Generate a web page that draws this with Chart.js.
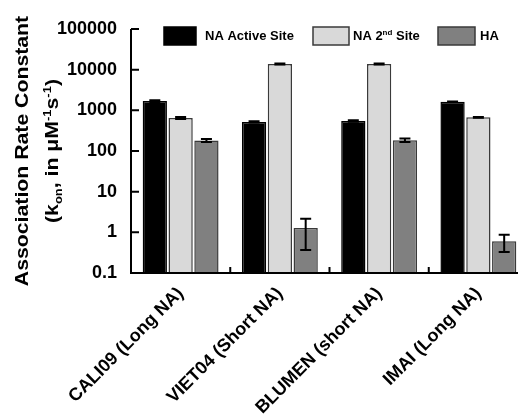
<!DOCTYPE html>
<html>
<head>
<meta charset="utf-8">
<script src="https://cdn.jsdelivr.net/npm/chart.js@4"></script>
<style>
html,body{margin:0;padding:0;background:#fff;overflow:hidden;width:518px;height:414px;}
#wrap{position:absolute;left:0;top:0;width:528px;height:414px;}
</style>
</head>
<body>
<div id="wrap"><canvas id="c" width="528" height="414"></canvas></div>
<script>
const categories = ['CALI09 (Long NA)', 'VIET04 (Short NA)', 'BLUMEN (short NA)', 'IMAI (Long NA)'];
const activeSite = [1690, 519, 548, 1630];
const activeErr = [90, 20, 25, 30];
const secondSite = [650, 13800, 13800, 675];
const secondErr = [40, 400, 400, 15];
const haValues = [182, 1.27, 185, 0.6];
const haErr = [16, 0.9, 18, 0.27];
const yTicks = [0.1, 1, 10, 100, 1000, 10000, 100000];
const seriesNames = ['NA Active Site', 'NA 2nd Site', 'HA'];

const FONT = '"Liberation Sans", Arial, sans-serif';
const fills = ['#000000', '#d9d9d9', '#808080'];
const borders = ['#000000', '#3a3a3a', '#3a3a3a'];
const errs = [activeErr, secondErr, haErr];

const decor = {
  id: 'decor',
  afterDatasetsDraw(chart) {
    const ctx = chart.ctx;
    const ys = chart.scales.y, xs = chart.scales.x;
    const area = chart.chartArea;
    ctx.save();
    // error bars
    ctx.strokeStyle = '#000';
    ctx.lineWidth = 2;
    chart.data.datasets.forEach((ds, di) => {
      const meta = chart.getDatasetMeta(di);
      meta.data.forEach((el, i) => {
        const v = ds.data[i], e = errs[di][i];
        const yt = ys.getPixelForValue(v + e);
        const yb = ys.getPixelForValue(Math.max(v - e, 0.1));
        const x = el.x, cw = 5.5;
        ctx.beginPath();
        ctx.moveTo(x, yt); ctx.lineTo(x, yb);
        ctx.moveTo(x - cw, yt); ctx.lineTo(x + cw, yt);
        if (v - e > 0.1) { ctx.moveTo(x - cw, yb); ctx.lineTo(x + cw, yb); }
        ctx.stroke();
      });
    });
    // axes
    ctx.lineWidth = 2;
    ctx.beginPath();
    ctx.moveTo(area.left, area.top); ctx.lineTo(area.left, area.bottom);
    ctx.lineTo(area.right, area.bottom);
    ctx.stroke();
    // y inward ticks
    ctx.beginPath();
    yTicks.forEach(t => {
      const y = ys.getPixelForValue(t);
      ctx.moveTo(area.left, y); ctx.lineTo(area.left + 8, y);
    });
    // x inward ticks at category boundaries
    for (let i = 1; i < categories.length; i++) {
      const x = (xs.getPixelForValue(i - 1) + xs.getPixelForValue(i)) / 2;
      ctx.moveTo(x, area.bottom); ctx.lineTo(x, area.bottom - 6);
    }
    ctx.stroke();

    // legend
    const boxes = [[164, 32], [313, 36], [438, 37]];
    const texts = [205, 353, 480];
    const by = 27, bh = 18, ty = 36.5;
    ctx.lineWidth = 1.5;
    boxes.forEach((b, i) => {
      ctx.fillStyle = fills[i];
      ctx.fillRect(b[0], by, b[1], bh);
      ctx.strokeStyle = borders[i];
      ctx.strokeRect(b[0], by, b[1], bh);
    });
    ctx.fillStyle = '#000';
    ctx.textBaseline = 'middle';
    ctx.textAlign = 'left';
    ctx.font = 'bold 13px ' + FONT;
    ctx.fillText(seriesNames[0], texts[0], ty);
    ctx.fillText(seriesNames[2], texts[2], ty);
    // "NA 2nd Site" with superscript
    let x = texts[1];
    ctx.fillText('NA 2', x, ty); x += ctx.measureText('NA 2').width;
    ctx.font = 'bold 8px ' + FONT;
    ctx.fillText('nd', x, ty - 4); x += ctx.measureText('nd').width;
    ctx.font = 'bold 13px ' + FONT;
    ctx.fillText(' Site', x, ty);

    // y-axis title (original figure is stretched along the text direction)
    const cy = (area.top + area.bottom) / 2;
    const stretch = 1.18;
    ctx.save();
    ctx.translate(28, cy);
    ctx.rotate(-Math.PI / 2);
    ctx.scale(stretch, 1);
    ctx.textAlign = 'center';
    ctx.textBaseline = 'alphabetic';
    ctx.font = 'bold 18px ' + FONT;
    ctx.fillText('Association Rate Constant', 0, 0);
    ctx.restore();

    ctx.save();
    ctx.translate(58, cy);
    ctx.rotate(-Math.PI / 2);
    ctx.scale(stretch, 1);
    ctx.textAlign = 'left';
    ctx.textBaseline = 'alphabetic';
    const runs = [
      ['(k', 18, 0], ['on', 11, 4], [', in μM', 18, 0], ['-1', 11, -7], ['s', 18, 0], ['-1', 11, -7], [')', 18, 0]
    ];
    let tot = 0;
    runs.forEach(r => { ctx.font = 'bold ' + r[1] + 'px ' + FONT; tot += ctx.measureText(r[0]).width; });
    let px = -tot / 2;
    runs.forEach(r => {
      ctx.font = 'bold ' + r[1] + 'px ' + FONT;
      ctx.fillText(r[0], px, r[2]);
      px += ctx.measureText(r[0]).width;
    });
    ctx.restore();
    ctx.restore();
  }
};

const mk = (label, data, i) => ({
  label, data,
  backgroundColor: fills[i],
  borderColor: borders[i],
  borderWidth: 1.5,
  categoryPercentage: 0.78,
  barPercentage: 0.94
});

new Chart(document.getElementById('c'), {
  type: 'bar',
  data: {
    labels: categories,
    datasets: [
      mk(seriesNames[0], activeSite, 0),
      mk(seriesNames[1], secondSite, 1),
      mk(seriesNames[2], haValues, 2)
    ]
  },
  options: {
    responsive: false,
    animation: false,
    devicePixelRatio: 1,
    layout: { padding: { left: 58, top: 29, right: 0, bottom: 0 } },
    plugins: { legend: { display: false }, tooltip: { enabled: false } },
    scales: {
      x: {
        grid: { display: false, drawTicks: false, tickLength: 0 },
        border: { display: false },
        ticks: {
          color: '#000',
          font: { family: FONT, size: 18, weight: 'bold' },
          maxRotation: 45, minRotation: 45, padding: 10, autoSkip: false
        },
        afterFit(s) { s.height = 141; }
      },
      y: {
        type: 'logarithmic',
        min: 0.1, max: 100000,
        grid: { display: false, drawTicks: false, tickLength: 0 },
        border: { display: false },
        afterBuildTicks(s) { s.ticks = yTicks.map(v => ({ value: v })); },
        ticks: {
          color: '#000',
          padding: 14,
          font: { family: FONT, size: 18, weight: 'bold' },
          callback: (v) => String(v)
        },
        afterFit(s) { s.width = 73; }
      }
    }
  },
  plugins: [decor]
});
</script>
</body>
</html>
